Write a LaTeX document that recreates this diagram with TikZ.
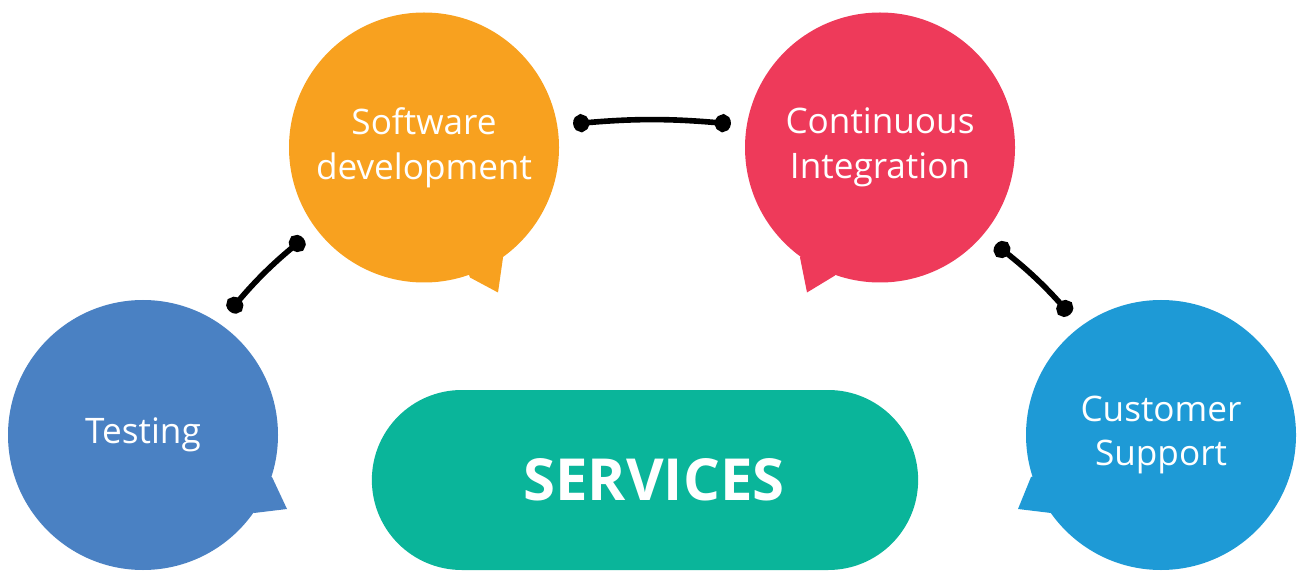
\documentclass[tikz,border=0pt]{standalone}
\usepackage{fontspec}
\setmainfont{Open Sans}
\usepackage{tikz}
\usetikzlibrary{arrows.meta,shapes.misc,calc,positioning,backgrounds}
\definecolor{testblue}{HTML}{4A81C3}
\definecolor{devorange}{HTML}{F8A11F}
\definecolor{cired}{HTML}{EE3A5A}
\definecolor{supportblue}{HTML}{1E9AD6}
\definecolor{serviceteal}{HTML}{0AB59A}

\begin{document}
\begin{tikzpicture}
	\tikzstyle{bubble} = [circle, minimum size = 5.4cm, outer sep = 0.32cm, text = white, align = center, font = \fontsize{20}{25.6}\selectfont]
	\tikzstyle{link} = [line width = 3.2pt, {Circle[length = 0.32cm, width = 0.36cm]}-{Circle[length = 0.32cm, width = 0.36cm]}, bend left = 5]
\useasboundingbox (0, 0) rectangle (25.96, 11.4);

\node[bubble, fill = testblue] (testing) at (2.86, 2.7) {Testing};
\node[bubble, fill = devorange] (softdev) at (8.48, 8.45) {Software\\development};
\node[bubble, fill = cired] (contint) at (17.6, 8.45) {Continuous\\Integration};
\node[bubble, fill = supportblue] (support) at (23.22, 2.7) {Customer\\Support};
\node[rounded rectangle, fill = serviceteal, minimum width = 11.16cm, minimum height = 3.6cm, text = white, font = \fontsize{33}{40}\selectfont\bfseries] (services) at (12.9, 1.8) {\kern0.36cm SERVICES};

	% speech bubble tails
	\begin{scope}[on background layer]
	\fill[testblue] (testing.center) -- ([shift = {(2.58, -0.84)}]testing.center) -- ([shift = {(2.88, -1.48)}]testing.center) -- ([shift = {(2.22, -1.56)}]testing.center) -- cycle;
	\fill[devorange] (softdev.center) -- ([shift = {(0.92, -2.6)}]softdev.center) -- ([shift = {(1.48, -2.9)}]softdev.center) -- ([shift = {(1.58, -2.2)}]softdev.center) -- cycle;
	\fill[cired] (contint.center) -- ([shift = {(-1.6, -2.2)}]contint.center) -- ([shift = {(-1.46, -2.9)}]contint.center) -- ([shift = {(-0.9, -2.56)}]contint.center) -- cycle;
	\fill[supportblue] (support.center) -- ([shift = {(-2.6, -0.84)}]support.center) -- ([shift = {(-2.86, -1.48)}]support.center) -- ([shift = {(-2.2, -1.56)}]support.center) -- cycle;
	\end{scope}

	% connectors
	\path[draw, link] (testing.55) to (softdev.217);
	\path[draw, link] (softdev.9) to (contint.171);
	\path[draw, link] (contint.-40) to (support.127);
\end{tikzpicture}
\end{document}
